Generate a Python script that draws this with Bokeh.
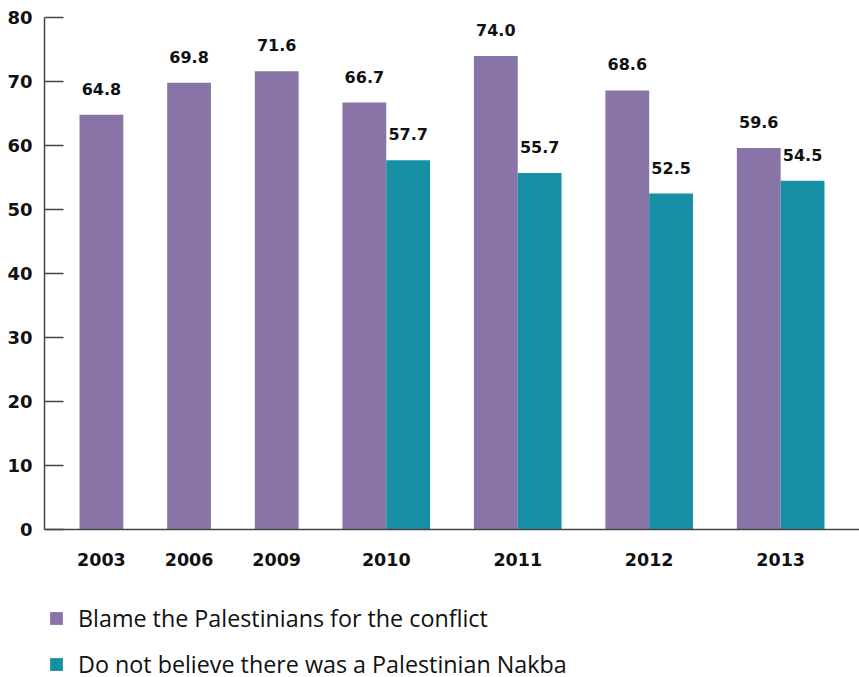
from bokeh.plotting import figure
from bokeh.models import FactorRange, Range1d, ColumnDataSource, Legend, LegendItem, FixedTicker
from bokeh.core.properties import value
from bokeh.embed import file_html
from bokeh.resources import INLINE

years = ["2003", "2006", "2009", "2010", "2011", "2012", "2013"]
blame = [64.8, 69.8, 71.6, 66.7, 74.0, 68.6, 59.6]
nakba = [None, None, None, 57.7, 55.7, 52.5, 54.5]
y_ticks = [0, 10, 20, 30, 40, 50, 60, 70, 80]
blame_label = "Blame the Palestinians for the conflict"
nakba_label = "Do not believe there was a Palestinian Nakba"

PURPLE = "#8974A7"
TEAL = "#178FA5"
AXIS = "#444444"
NUM_FONT = "DejaVu Sans"

factors = []
for yr, n in zip(years, nakba):
    factors.append((yr, "a"))
    if n is not None:
        factors.append((yr, "b"))

src_a = ColumnDataSource(dict(
    x=[(yr, "a") for yr in years],
    top=blame,
    lab=[f"{v:.1f}" for v in blame],
))
nb_years = [yr for yr, n in zip(years, nakba) if n is not None]
nb_vals = [n for n in nakba if n is not None]
src_b = ColumnDataSource(dict(
    x=[(yr, "b") for yr in nb_years],
    top=nb_vals,
    lab=[f"{v:.1f}" for v in nb_vals],
))

W, H = 859, 677
TOP, LEFT = 17, 44
PX_PER_UNIT = 512 / 80          # 0..80 spans 512 px
y_start = 80 - (H - TOP) / PX_PER_UNIT   # frame runs down to make room for the legend

p = figure(
    width=W, height=H,
    x_range=FactorRange(*factors, group_padding=1.0, range_padding=0.094),
    y_range=Range1d(y_start, 80),
    output_backend="svg", toolbar_location=None,
    min_border_left=LEFT, min_border_right=0, min_border_top=TOP, min_border_bottom=0,
)
p.outline_line_color = None
p.xgrid.visible = False
p.ygrid.visible = False

ra = p.vbar(x="x", top="top", width=1.0, source=src_a, fill_color=PURPLE, line_color=None)
rb = p.vbar(x="x", top="top", width=1.0, source=src_b, fill_color=TEAL, line_color=None)

for src in (src_a, src_b):
    p.text(x="x", y="top", text="lab", source=src, text_align="center",
           text_baseline="alphabetic", y_offset=-26,
           text_font=value(NUM_FONT), text_font_style="bold",
           text_font_size="16px", text_color="#111111")

ya = p.yaxis[0]
ya.ticker = FixedTicker(ticks=y_ticks)
ya.bounds = (0, 80)
ya.axis_line_color = AXIS
ya.axis_line_width = 1.5
ya.major_tick_line_color = AXIS
ya.major_tick_line_width = 1.5
ya.major_tick_in = 19
ya.major_tick_out = 0
ya.minor_tick_line_color = None
ya.major_label_standoff = 12
ya.major_label_text_font = NUM_FONT
ya.major_label_text_font_style = "bold"
ya.major_label_text_font_size = "18px"
ya.major_label_text_color = "#111111"

xa = p.xaxis[0]
xa.fixed_location = 0
xa.axis_line_color = AXIS
xa.axis_line_width = 1.5
xa.major_tick_line_color = None
xa.major_tick_in = 0
xa.major_tick_out = 0
xa.minor_tick_line_color = None
xa.major_label_text_font_size = "1px"
xa.major_label_text_color = None
xa.major_label_standoff = 23
xa.separator_line_alpha = 0
xa.group_text_font = NUM_FONT
xa.group_text_font_style = "bold"
xa.group_text_font_size = "17.5px"
xa.group_text_color = "#111111"

legend = Legend(
    items=[LegendItem(label=blame_label, renderers=[ra]),
           LegendItem(label=nakba_label, renderers=[rb])],
    orientation="vertical", location=(4, -3),
    glyph_width=16, glyph_height=16, label_standoff=14, spacing=14,
    label_text_font="Open Sans", label_text_font_size="23.3px", label_text_color="#111111",
    border_line_color=None, background_fill_alpha=0,
    padding=0, margin=0,
)
p.add_layout(legend, "center")

open("out.html", "w").write(file_html(p, INLINE))
